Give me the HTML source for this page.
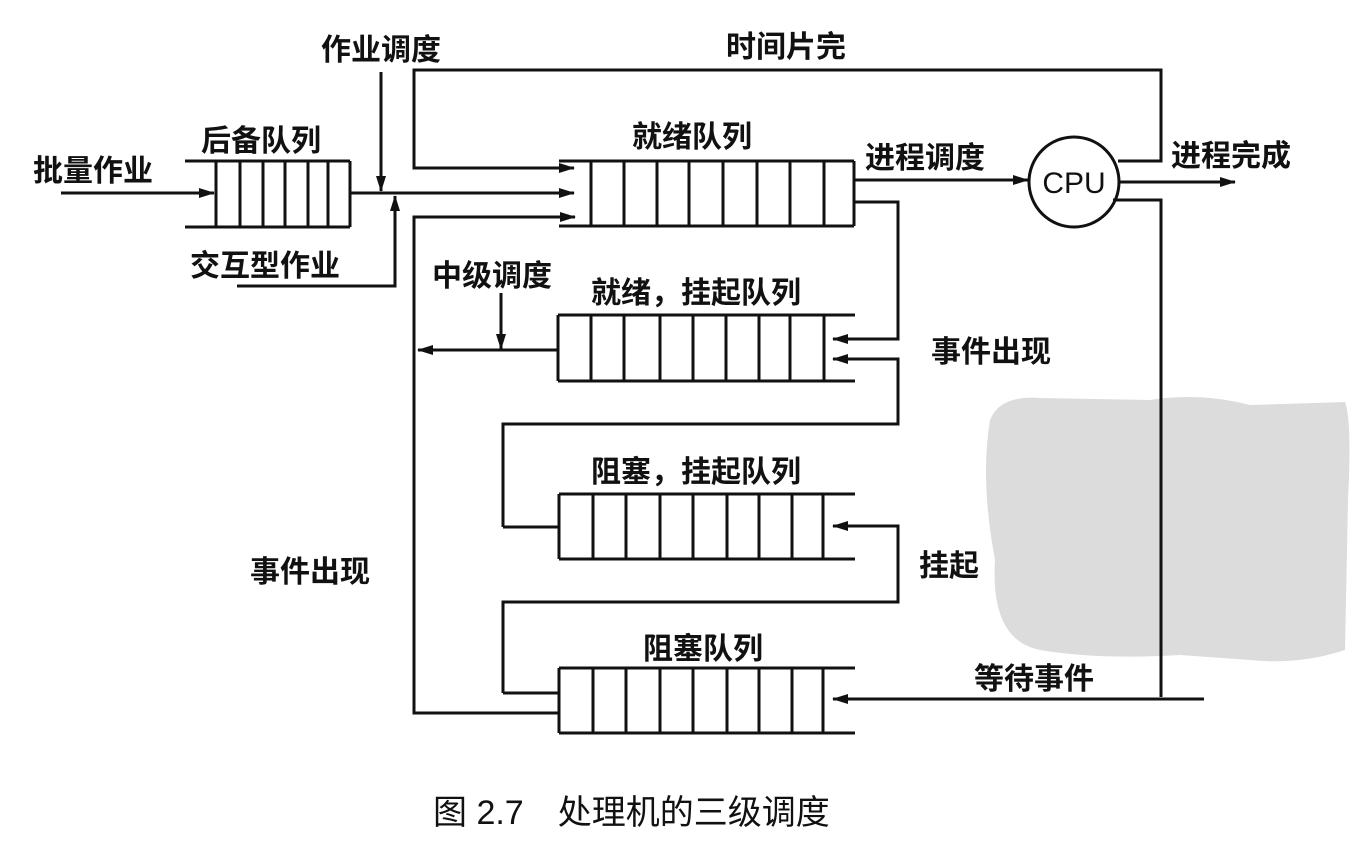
<!DOCTYPE html>
<html><head><meta charset="utf-8"><style>
html,body{margin:0;padding:0;background:#fff;}
svg{display:block}
text{font-family:"Liberation Sans","Noto Sans CJK SC",sans-serif;font-size:30px;fill:#111;font-weight:bold;}
</style></head><body>
<svg width="1352" height="842" viewBox="0 0 1352 842" xmlns="http://www.w3.org/2000/svg">
<defs>
<marker id="a" markerWidth="16" markerHeight="12" refX="15" refY="6" orient="auto" markerUnits="userSpaceOnUse">
<path d="M0,1 L16,6 L0,11 Z" fill="#111"/></marker>
</defs>
<g fill="#dcdcdc">
<path d="M990,420 Q1000,395 1040,398 L1150,400 Q1200,392 1250,405 L1345,402 Q1352,420 1348,500 L1345,650 Q1300,665 1250,660 L1180,655 Q1100,660 1040,650 Q990,640 995,560 Q980,480 990,420 Z"/>
</g>
<g stroke="#111" stroke-width="3" fill="none">
<line x1="185" y1="161" x2="350" y2="161"/><line x1="185" y1="227" x2="350" y2="227"/>
<line x1="216" y1="161" x2="216" y2="227"/><line x1="240" y1="161" x2="240" y2="227"/>
<line x1="263" y1="161" x2="263" y2="227"/><line x1="285" y1="161" x2="285" y2="227"/>
<line x1="308" y1="161" x2="308" y2="227"/><line x1="328" y1="161" x2="328" y2="227"/>
<line x1="350" y1="161" x2="350" y2="227"/>
<line x1="61" y1="193" x2="214" y2="193" marker-end="url(#a)"/>
<line x1="350" y1="193" x2="574" y2="193" marker-end="url(#a)"/>
<line x1="381" y1="72" x2="381" y2="191" marker-end="url(#a)"/>
<polyline points="237,286 395,286 395,196" marker-end="url(#a)"/>
<polyline points="1118,161 1161,161 1161,70 414,70 414,168 574,168" marker-end="url(#a)"/>
<polyline points="574,217 414,217 414,713 559,713" />
<line x1="574" y1="217" x2="575" y2="217" marker-end="url(#a)"/>
<line x1="559" y1="161" x2="854" y2="161"/><line x1="559" y1="226" x2="854" y2="226"/>
<line x1="591" y1="161" x2="591" y2="226"/><line x1="624" y1="161" x2="624" y2="226"/>
<line x1="657" y1="161" x2="657" y2="226"/><line x1="689" y1="161" x2="689" y2="226"/>
<line x1="723" y1="161" x2="723" y2="226"/><line x1="757" y1="161" x2="757" y2="226"/>
<line x1="790" y1="161" x2="790" y2="226"/><line x1="824" y1="161" x2="824" y2="226"/>
<line x1="854" y1="161" x2="854" y2="226"/>
<line x1="854" y1="180" x2="1028" y2="180" marker-end="url(#a)"/>
<circle cx="1074" cy="182" r="45"/>
<line x1="1118" y1="182" x2="1235" y2="182" marker-end="url(#a)"/>
<polyline points="1113,200 1161,200 1161,697"/>
<line x1="1204" y1="699" x2="833" y2="699" marker-end="url(#a)"/>
<line x1="558" y1="315" x2="855" y2="315"/><line x1="558" y1="381" x2="855" y2="381"/>
<line x1="558" y1="315" x2="558" y2="381"/><line x1="591" y1="315" x2="591" y2="381"/>
<line x1="624" y1="315" x2="624" y2="381"/><line x1="660" y1="315" x2="660" y2="381"/>
<line x1="693" y1="315" x2="693" y2="381"/><line x1="726" y1="315" x2="726" y2="381"/>
<line x1="759" y1="315" x2="759" y2="381"/><line x1="790" y1="315" x2="790" y2="381"/>
<line x1="824" y1="315" x2="824" y2="381"/>
<polyline points="854,202 898,202 898,339 833,339" marker-end="url(#a)"/>
<polyline points="503,527 503,424 898,424 898,359 833,359" marker-end="url(#a)"/>
<line x1="503" y1="527" x2="559" y2="527"/>
<line x1="557" y1="350" x2="418" y2="350" marker-end="url(#a)"/>
<line x1="501" y1="293" x2="501" y2="349" marker-end="url(#a)"/>
<line x1="559" y1="494" x2="855" y2="494"/><line x1="559" y1="559" x2="855" y2="559"/>
<line x1="559" y1="494" x2="559" y2="559"/><line x1="593" y1="494" x2="593" y2="559"/>
<line x1="626" y1="494" x2="626" y2="559"/><line x1="660" y1="494" x2="660" y2="559"/>
<line x1="693" y1="494" x2="693" y2="559"/><line x1="727" y1="494" x2="727" y2="559"/>
<line x1="759" y1="494" x2="759" y2="559"/><line x1="792" y1="494" x2="792" y2="559"/>
<line x1="823" y1="494" x2="823" y2="559"/>
<polyline points="503,693 503,602 898,602 898,526 833,526" marker-end="url(#a)"/>
<line x1="503" y1="693" x2="559" y2="693"/>
<line x1="559" y1="668" x2="855" y2="668"/><line x1="559" y1="733" x2="855" y2="733"/>
<line x1="559" y1="668" x2="559" y2="733"/><line x1="593" y1="668" x2="593" y2="733"/>
<line x1="626" y1="668" x2="626" y2="733"/><line x1="660" y1="668" x2="660" y2="733"/>
<line x1="693" y1="668" x2="693" y2="733"/><line x1="727" y1="668" x2="727" y2="733"/>
<line x1="759" y1="668" x2="759" y2="733"/><line x1="792" y1="668" x2="792" y2="733"/>
<line x1="823" y1="668" x2="823" y2="733"/>
</g>
<text x="33" y="181">批量作业</text>
<text x="201" y="151">后备队列</text>
<text x="321" y="60">作业调度</text>
<text x="190" y="276">交互型作业</text>
<text x="726" y="57">时间片完</text>
<text x="632" y="147">就绪队列</text>
<text x="865" y="168">进程调度</text>
<text x="1171" y="166">进程完成</text>
<text x="1074" y="193" text-anchor="middle" style="font-size:30px;font-weight:normal">CPU</text>
<text x="432" y="286">中级调度</text>
<text x="591" y="303">就绪，挂起队列</text>
<text x="931" y="362">事件出现</text>
<text x="591" y="482">阻塞，挂起队列</text>
<text x="919" y="576">挂起</text>
<text x="250" y="582">事件出现</text>
<text x="643" y="659">阻塞队列</text>
<text x="974" y="689">等待事件</text>
<text x="433" y="824" style="font-size:34px;font-weight:normal">图 2.7　处理机的三级调度</text>
</svg>
</body></html>
